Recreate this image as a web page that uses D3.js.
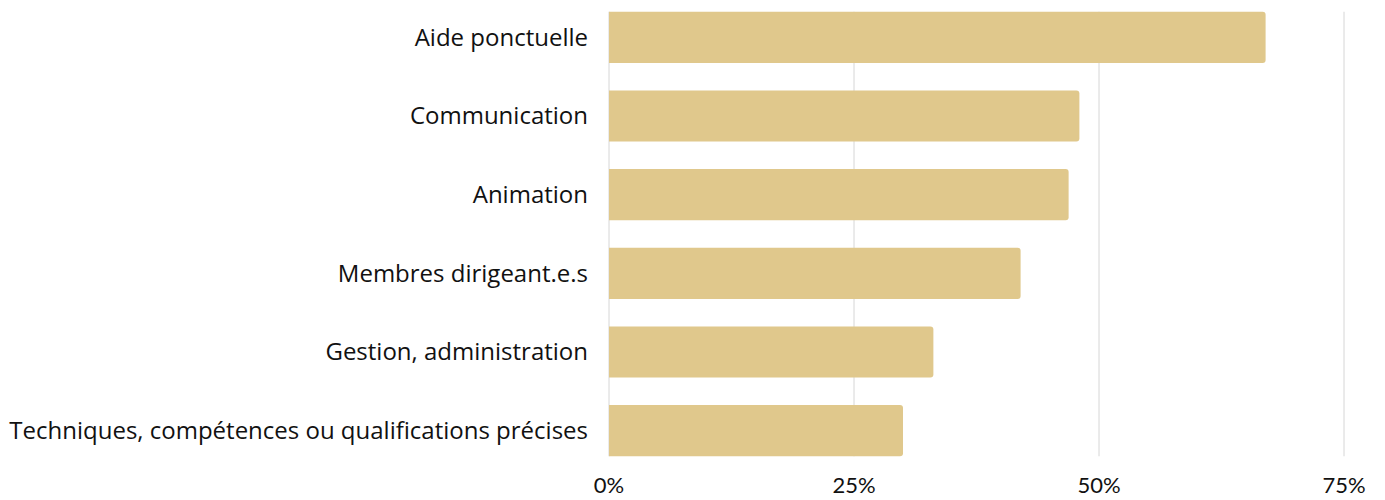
<!DOCTYPE html>
<html><head><meta charset="utf-8">
<script src="https://cdn.jsdelivr.net/npm/d3@7"></script>
<style>body{margin:0;background:#fff;} text{font-family:Lato, sans-serif;}</style>
</head><body><svg id="c" width="1385" height="500"></svg>
<script>
const categories = ["Aide ponctuelle","Communication","Animation","Membres dirigeant.e.s","Gestion, administration","Techniques, compétences ou qualifications précises"];
const values = [67.0, 48.0, 46.9, 42.0, 33.1, 30.0];
const tickValues = [0, 25, 50, 75];
const tickLabels = ["0%","25%","50%","75%"];

const svg = d3.select("#c");
const m = {left:609, right:41, top:0, bottom:35};
const W = 1385, H = 500;
const x = d3.scaleLinear().domain([0,75]).range([m.left, W - m.right]);
const y = d3.scaleBand().domain(categories).range([0+ -4, 472]).paddingInner(0.35).paddingOuter(0.2);

// gridlines
svg.append("g").selectAll("line").data(tickValues).join("line")
  .attr("x1", d=>x(d)).attr("x2", d=>x(d))
  .attr("y1", y(categories[0])).attr("y2", y(categories[categories.length-1]) + y.bandwidth())
  .attr("stroke", "#d6d6d6").attr("stroke-width", 1);

const r = 3;
svg.append("g").selectAll("path").data(categories).join("path")
  .attr("d", (c,i)=>{
    const x0 = x(0), x1 = x(values[i]), y0 = y(c), y1 = y0 + y.bandwidth();
    return `M${x0},${y0}H${x1-r}Q${x1},${y0} ${x1},${y0+r}V${y1-r}Q${x1},${y1} ${x1-r},${y1}H${x0}Z`;
  })
  .attr("fill", "#E0C88C");

svg.append("g").selectAll("text").data(categories).join("text")
  .attr("x", x(0) - 21).attr("y", c=>y(c) + y.bandwidth()/2)
  .attr("dy", "0.35em").attr("text-anchor", "end")
  .style("font-family", "'Open Sans', sans-serif")
  .attr("font-size", 24).attr("font-weight", 500).attr("fill", "#111")
  .text(c=>c);

svg.append("g").selectAll("text").data(tickValues).join("text")
  .attr("x", d=>x(d)).attr("y", 493).attr("text-anchor", "middle")
  .attr("font-size", 22).attr("fill", "#111")
  .text((d,i)=>tickLabels[i]);
</script></body></html>
